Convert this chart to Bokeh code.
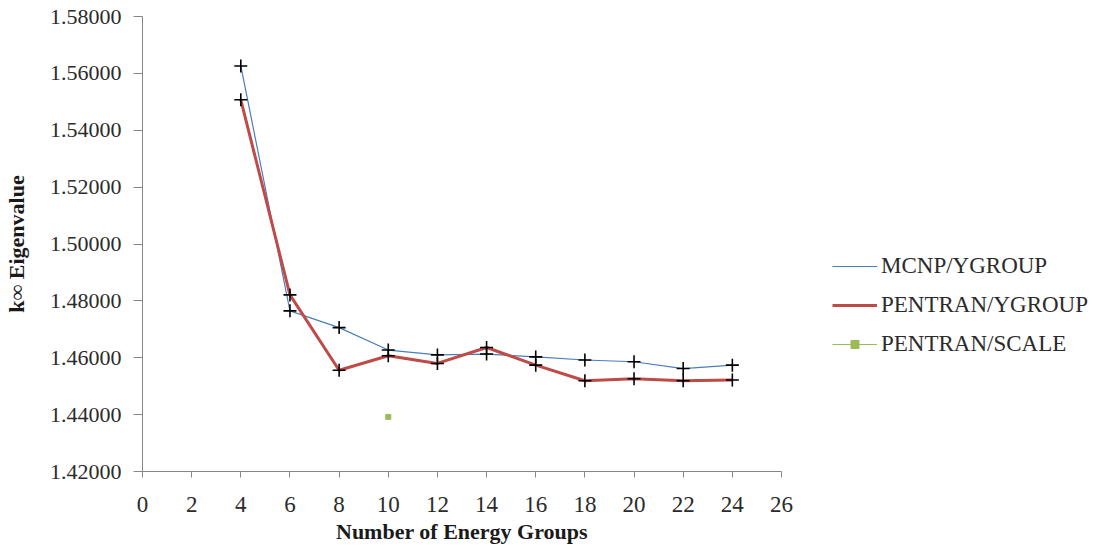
from bokeh.embed import file_html
from bokeh.models import (FixedTicker, Legend, LegendItem,
                          PrintfTickFormatter, Range1d)
from bokeh.plotting import figure
from bokeh.resources import INLINE

# Number of energy groups and the infinite-medium eigenvalues
groups = [4, 6, 8, 10, 12, 14, 16, 18, 20, 22, 24]
mcnp_ygroup = [1.5626, 1.4765, 1.4706, 1.4627, 1.4610, 1.4613,
               1.4603, 1.4592, 1.4586, 1.4562, 1.4574]
pentran_ygroup = [1.5507, 1.4821, 1.4556, 1.4607, 1.4580, 1.4636,
                  1.4574, 1.4519, 1.4526, 1.4519, 1.4522]
scale_groups = [10]
pentran_scale = [1.4392]

x_ticks = list(range(0, 27, 2))
y_ticks = [1.42, 1.44, 1.46, 1.48, 1.50, 1.52, 1.54, 1.56, 1.58]

SERIF = "Liberation Serif"
AXIS_GREY = "#868686"
TEXT = "#2b2b2b"
GREEN = "#9bbb59"

p = figure(
    frame_width=639, frame_height=455,
    min_border_left=142, min_border_right=337,
    min_border_top=16, min_border_bottom=79,
    x_range=Range1d(0, 26), y_range=Range1d(1.42, 1.58),
    output_backend="svg", toolbar_location=None,
    background_fill_color="white", border_fill_color="white",
)
p.outline_line_color = None
p.xgrid.visible = False
p.ygrid.visible = False

# axes
p.xaxis.ticker = FixedTicker(ticks=x_ticks)
p.yaxis.ticker = FixedTicker(ticks=y_ticks)
p.yaxis.formatter = PrintfTickFormatter(format="%.5f")
for ax in (p.xaxis, p.yaxis):
    ax.axis_line_color = AXIS_GREY
    ax.major_tick_line_color = AXIS_GREY
    ax.minor_tick_line_color = None
    ax.major_tick_in = 0
    ax.major_label_text_font = SERIF
    ax.major_label_text_color = TEXT
    ax.axis_label_text_font = SERIF
    ax.axis_label_text_font_style = "bold"
    ax.axis_label_text_font_size = "22px"
    ax.axis_label_text_color = "#1a1a1a"
p.xaxis.major_tick_out = 6
p.yaxis.major_tick_out = 9
p.xaxis.major_label_text_font_size = "23px"
p.yaxis.major_label_text_font_size = "22px"
p.xaxis.major_label_standoff = 19
p.yaxis.major_label_standoff = 12
p.xaxis.axis_label = "Number of Energy Groups"
p.xaxis.axis_label_standoff = 4
p.yaxis.axis_label = "k\u221e Eigenvalue"
p.yaxis.axis_label_standoff = 18

# series
blue = p.line(groups, mcnp_ygroup, line_color="#4a7ebb", line_width=1.2)
red = p.line(groups, pentran_ygroup, line_color="#be4b48", line_width=3)
p.scatter(groups, mcnp_ygroup, marker="cross", size=13,
          line_color="black", line_width=1.6)
p.scatter(groups, pentran_ygroup, marker="cross", size=13,
          line_color="black", line_width=1.6)
green_pts = p.scatter(scale_groups, pentran_scale, marker="square", size=5,
                      fill_color=GREEN, line_color=GREEN)
# the lone SCALE result as a (zero-length) line, giving its legend a line key
green_line = p.line(scale_groups * 2, pentran_scale * 2,
                    line_color=GREEN, line_width=1.2)

legend = Legend(
    items=[
        LegendItem(label="MCNP/YGROUP", renderers=[blue]),
        LegendItem(label="PENTRAN/YGROUP", renderers=[red]),
        LegendItem(label="PENTRAN/SCALE", renderers=[green_pts, green_line]),
    ],
    location=(51, 114),
    glyph_width=45, glyph_height=20, label_height=20,
    spacing=13, padding=0, margin=0, label_standoff=4,
    border_line_color=None, background_fill_alpha=0,
    label_text_font=SERIF, label_text_font_size="23px",
    label_text_color=TEXT, click_policy="none",
)
p.add_layout(legend, "right")

open("out.html", "w").write(file_html(p, INLINE))
